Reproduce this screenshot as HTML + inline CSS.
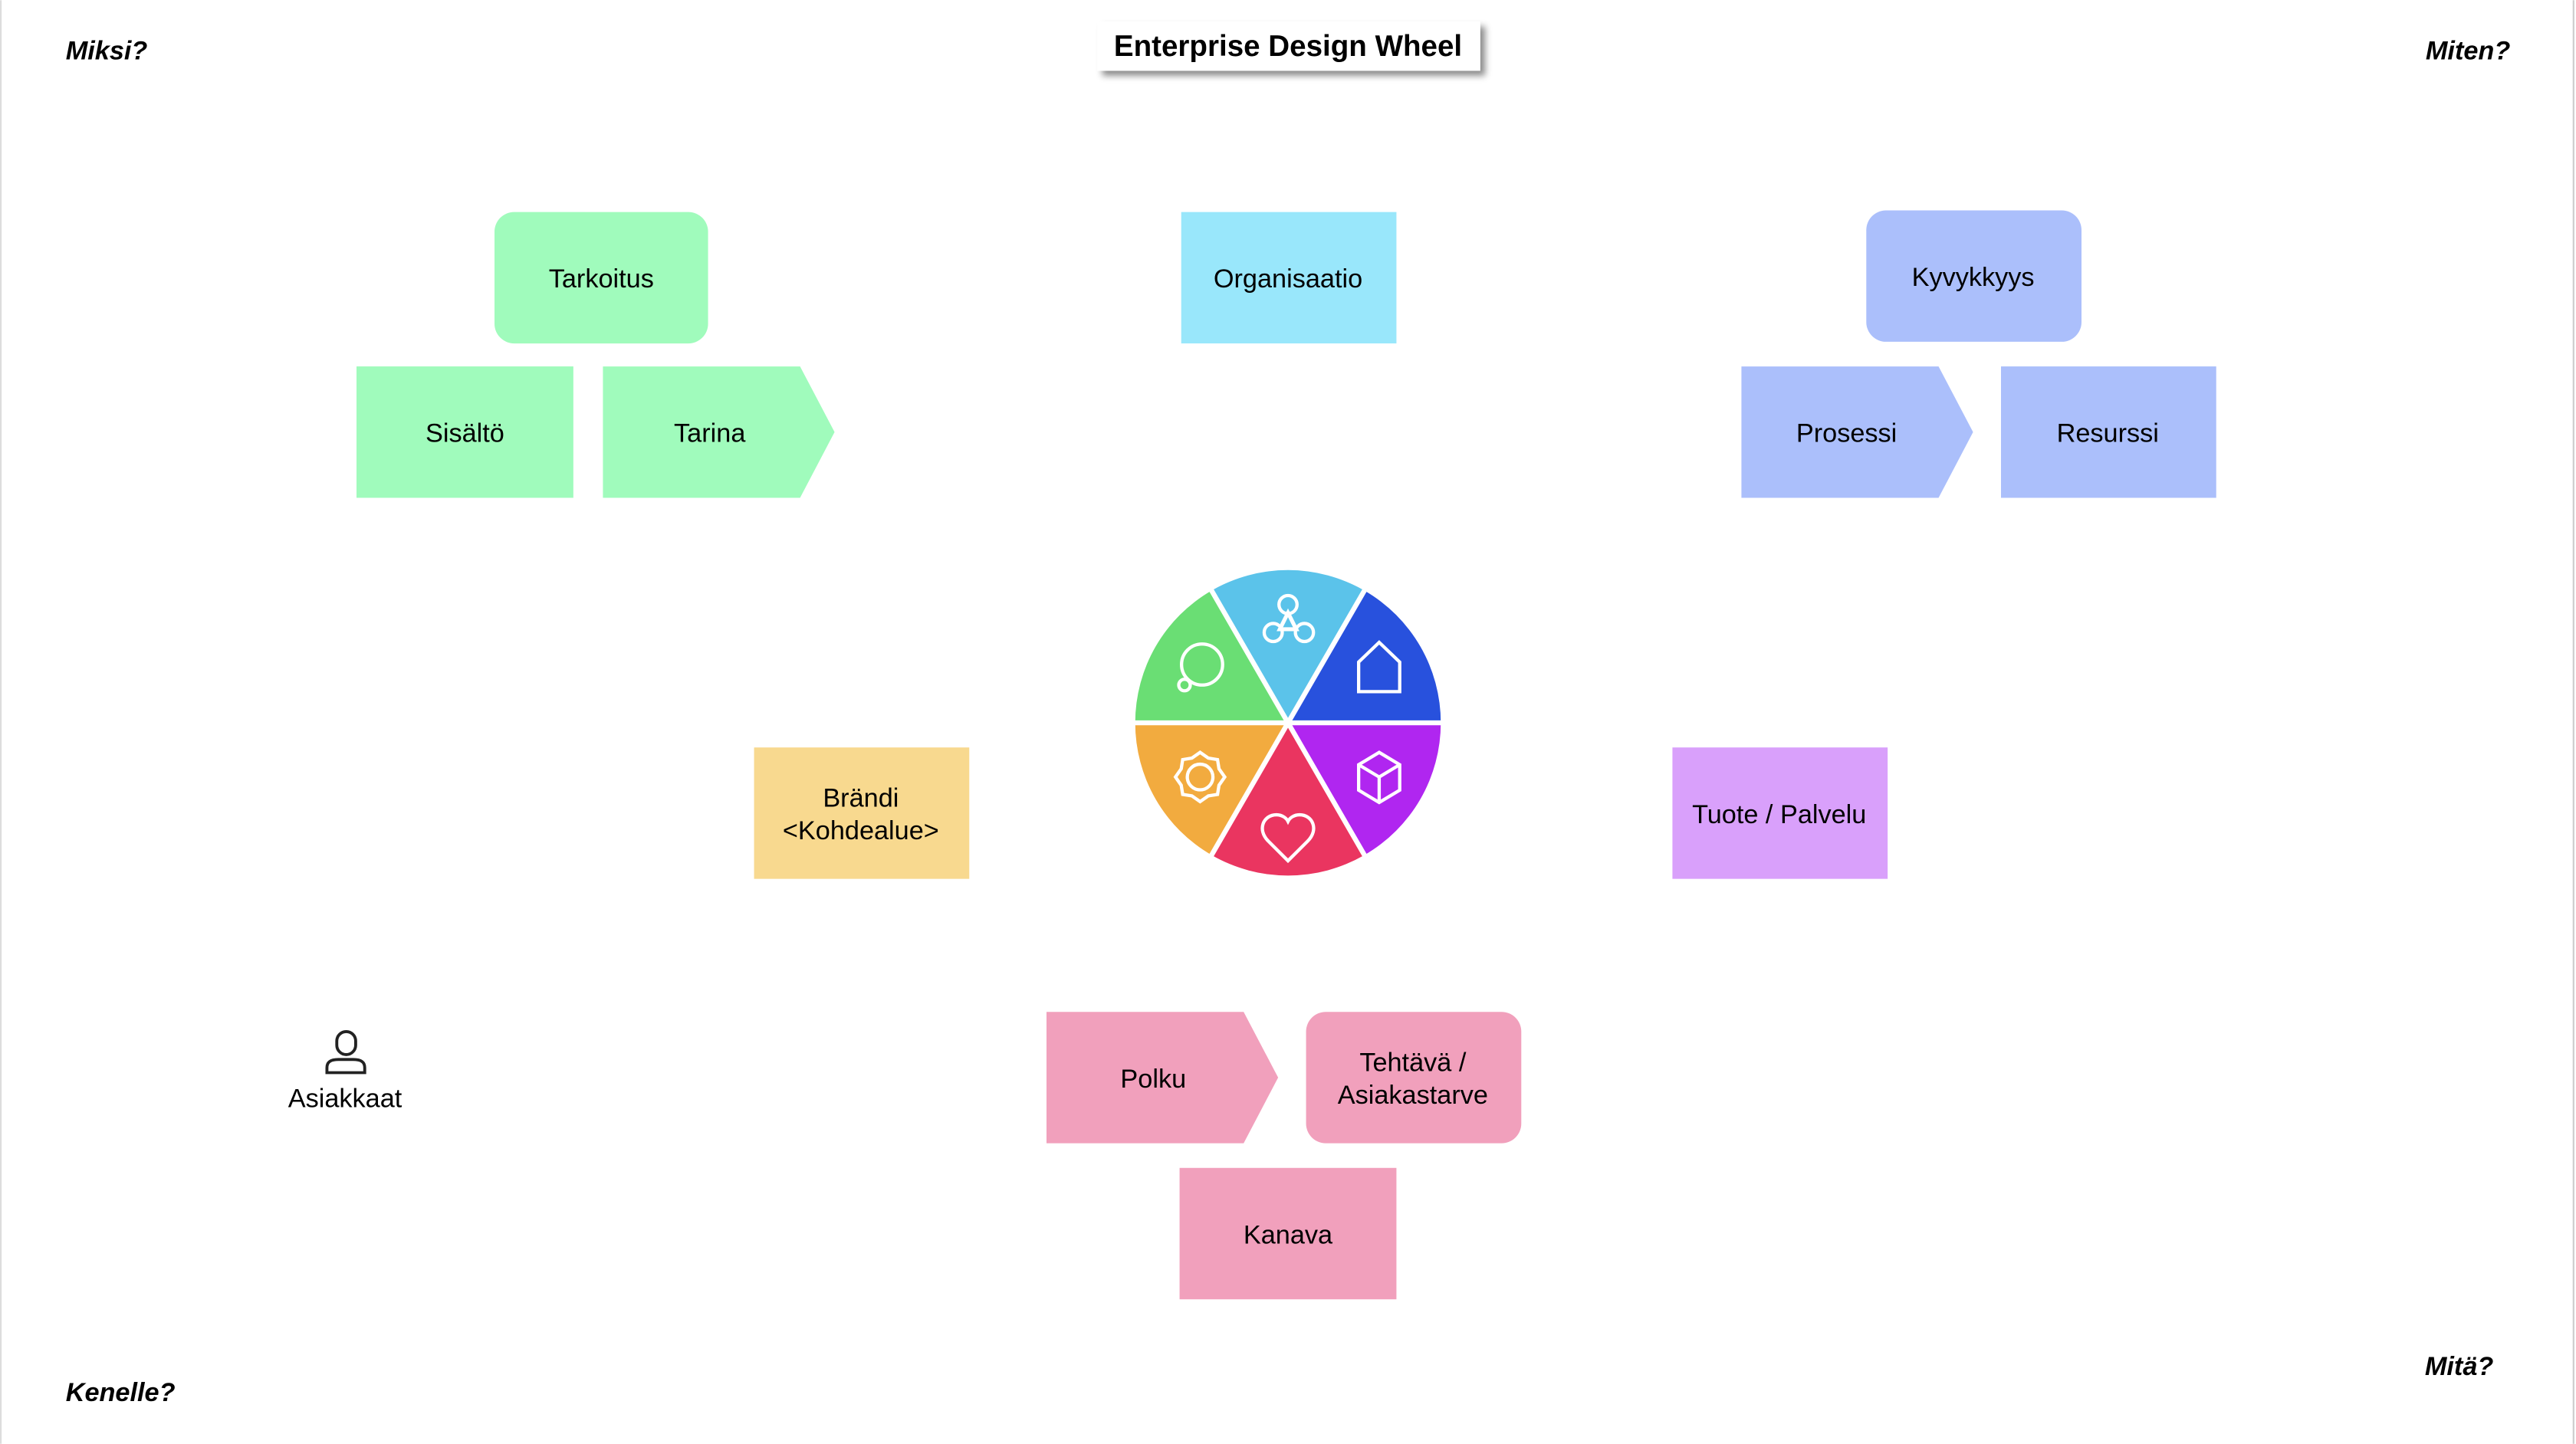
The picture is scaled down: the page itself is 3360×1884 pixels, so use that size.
<!DOCTYPE html>
<html><head><meta charset="utf-8"><style>
html,body{margin:0;padding:0;background:#fff;}
svg{display:block;}
text{font-family:"Liberation Sans",Arial,sans-serif;}
</style></head><body>
<svg width="3360" height="1884" viewBox="0 0 1568 879" xmlns="http://www.w3.org/2000/svg">
<defs><filter id="sh" x="-10%" y="-30%" width="130%" height="200%"><feDropShadow dx="3" dy="3" stdDeviation="2" flood-color="#000" flood-opacity="0.45"/></filter></defs>
<rect x="0" y="0" width="1568" height="879" fill="#fff"/>
<line x1="0.5" y1="0" x2="0.5" y2="879" stroke="#ddd" stroke-width="1"/>
<line x1="1566.5" y1="0" x2="1566.5" y2="879" stroke="#ccc" stroke-width="1"/>

<g font-weight="bold" font-style="italic" font-size="16" fill="#000">
<text x="40" y="36">Miksi?</text>
<text x="1528" y="36" text-anchor="end">Miten?</text>
<text x="40" y="853">Kenelle?</text>
<text x="1476" y="837">Mitä?</text>
</g>

<rect x="668" y="13" width="233" height="30" fill="#fff" filter="url(#sh)"/>
<text x="784" y="34" text-anchor="middle" font-weight="bold" font-size="18">Enterprise Design Wheel</text>

<g font-size="16" fill="#000" text-anchor="middle">
<rect x="301" y="129" width="130" height="80" rx="12" fill="#a0fbbc"/>
<text x="366" y="175">Tarkoitus</text>
<rect x="217" y="223" width="132" height="80" fill="#a0fbbc"/>
<text x="283" y="269">Sisältö</text>
<polygon points="367,223 487,223 508,263 487,303 367,303" fill="#a0fbbc"/>
<text x="432" y="269">Tarina</text>

<rect x="719" y="129" width="131" height="80" fill="#99e7fb"/>
<text x="784" y="175">Organisaatio</text>

<rect x="1136" y="128" width="131" height="80" rx="12" fill="#abbffb"/>
<text x="1201" y="174">Kyvykkyys</text>
<polygon points="1060,223 1180,223 1201,263 1180,303 1060,303" fill="#abbffb"/>
<text x="1124" y="269">Prosessi</text>
<rect x="1218" y="223" width="131" height="80" fill="#abbffb"/>
<text x="1283" y="269">Resurssi</text>

<rect x="459" y="455" width="131" height="80" fill="#f8d98f"/>
<text x="524" y="491">Brändi</text>
<text x="524" y="511">&lt;Kohdealue&gt;</text>

<rect x="1018" y="455" width="131" height="80" fill="#d9a0fb"/>
<text x="1083" y="501">Tuote / Palvelu</text>

<polygon points="637,616 757,616 778,656 757,696 637,696" fill="#f1a0bc"/>
<text x="702" y="662">Polku</text>
<rect x="795" y="616" width="131" height="80" rx="12" fill="#f1a0bc"/>
<text x="860" y="652">Tehtävä /</text>
<text x="860" y="672">Asiakastarve</text>
<rect x="718" y="711" width="132" height="80" fill="#f1a0bc"/>
<text x="784" y="757">Kanava</text>

<text x="210" y="674">Asiakkaat</text>
</g>

<g fill="none" stroke="#222" stroke-width="1.8">
<rect x="205" y="628" width="11.5" height="14" rx="5.75"/>
<path d="M199,653 L199,650 C199,646 202,645 206,645 L215,645 C219,645 222,646 222,650 L222,653 Z"/>
</g>

<!-- wheel -->
<path d="M784,440 L830.5,359.46 A93,93 0 0,0 737.5,359.46 Z" fill="#5bc3ea"/>
<path d="M784,440 L877,440 A93,93 0 0,0 830.5,359.46 Z" fill="#2851dd"/>
<path d="M784,440 L830.5,520.54 A93,93 0 0,0 877,440 Z" fill="#b026f0"/>
<path d="M784,440 L737.5,520.54 A93,93 0 0,0 830.5,520.54 Z" fill="#ea3560"/>
<path d="M784,440 L691,440 A93,93 0 0,0 737.5,520.54 Z" fill="#f2ab3f"/>
<path d="M784,440 L737.5,359.46 A93,93 0 0,0 691,440 Z" fill="#6ade74"/>
<g stroke="#fff" stroke-width="3">
<line x1="688" y1="440" x2="880" y2="440"/>
<line x1="736" y1="356.9" x2="832" y2="523.1"/>
<line x1="832" y1="356.9" x2="736" y2="523.1"/>
</g>
<g fill="none" stroke="#fff" stroke-width="2" stroke-linejoin="miter">
<circle cx="784" cy="368" r="5.5"/>
<circle cx="775" cy="385" r="5.5"/>
<circle cx="794" cy="385" r="5.5"/>
<polygon points="784,373 779,383 789,383" stroke-width="2.4"/>
<polygon points="827,421 827,403 839.5,391 852,403 852,421"/>
<polygon points="839.5,458 852,465.5 852,481 839.5,488.5 827,481 827,465.5"/>
<polyline points="827,465.5 839.5,473 852,465.5"/>
<line x1="839.5" y1="473" x2="839.5" y2="488.5"/>
<path d="M784,524 L772,512 C765,505 769,496 777,496 C780.5,496 783,498 784,500 C785,498 787.5,496 791,496 C799,496 803,505 796,512 Z"/>
<circle cx="730.5" cy="473" r="7.8"/>
<polygon points="730.5,458 735.5,461.5 741.1,462.4 742,468 745.5,473 742,478 741.1,483.6 735.5,484.5 730.5,488 725.5,484.5 719.9,483.6 719,478 715.5,473 719,468 719.9,462.4 725.5,461.5"/>
<circle cx="731.7" cy="404.5" r="12.5"/>
<circle cx="721" cy="417" r="3.5"/>
</g>
</svg>
</body></html>
